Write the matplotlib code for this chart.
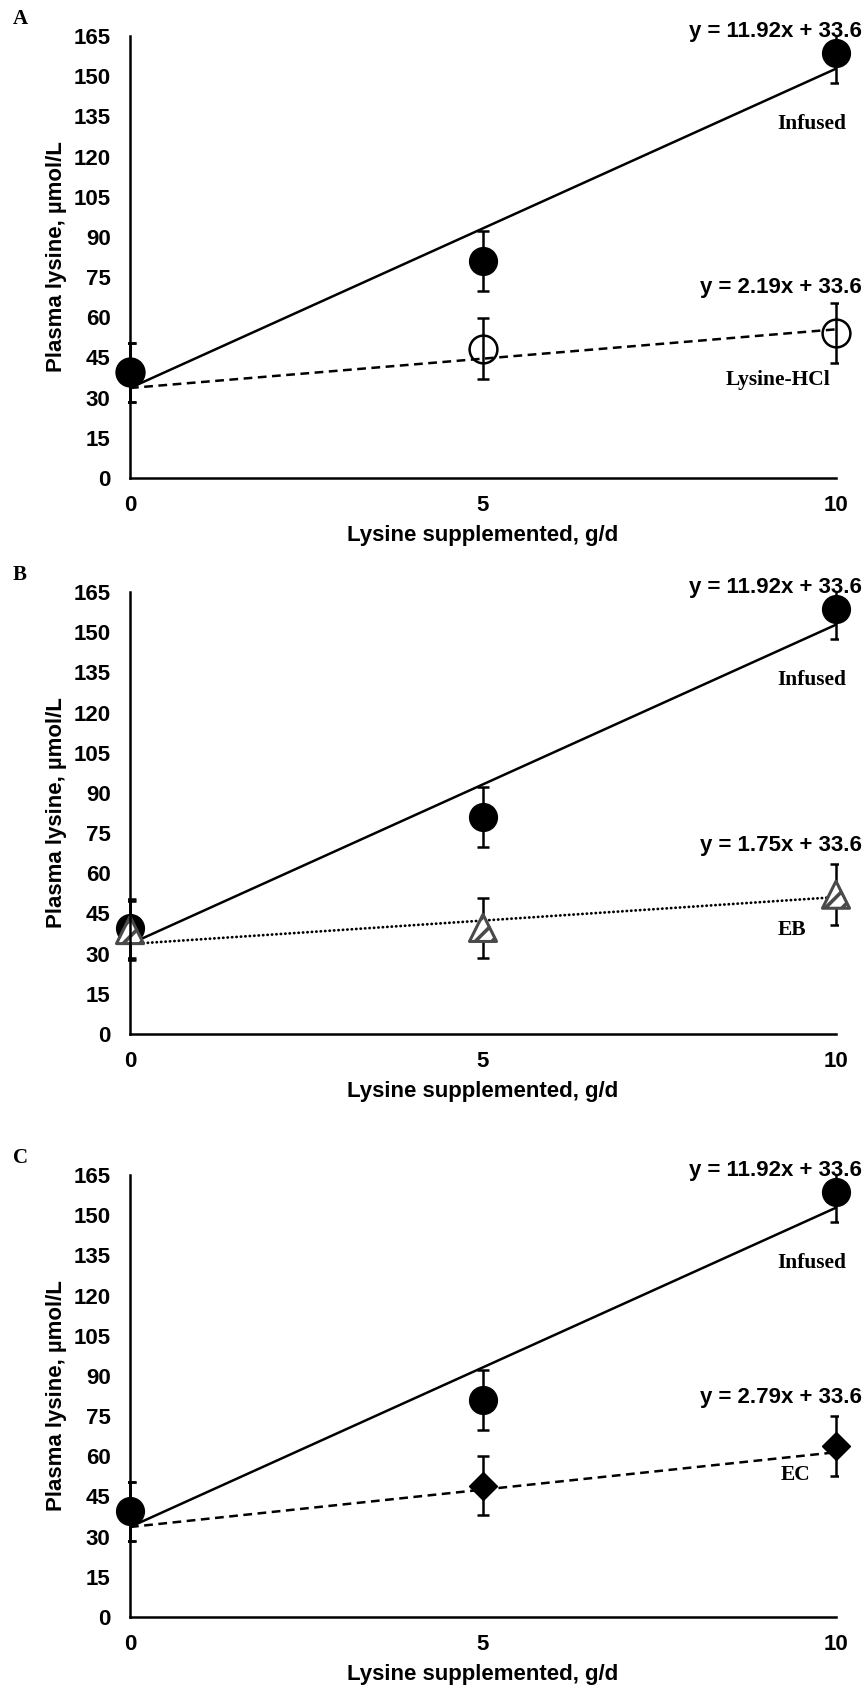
import numpy as np
import matplotlib.pyplot as plt
from matplotlib.patches import Rectangle

# doses and group means / SE
x_dose = [0, 5, 10]
infused_mean = [39.5, 81.0, 158.7]
infused_se = [11.0, 11.2, 11.2]
lys_hcl_mean = [39.5, 48.3, 54.0]
lys_hcl_se = [11.0, 11.3, 11.2]
eb_mean = [38.8, 39.6, 52.0]
eb_se = [11.0, 11.2, 11.3]
ec_mean = [39.5, 49.0, 64.0]
ec_se = [11.0, 11.0, 11.2]

# regression lines (shared intercept)
intercept = 33.6
slope_infused = 11.92
slope_lys_hcl = 2.19
slope_eb = 1.75
slope_ec = 2.79

y_ticks = list(range(0, 166, 15))
x_ticks = [0, 5, 10]

SANS = ['Liberation Sans', 'DejaVu Sans']
SERIF = ['Liberation Serif', 'DejaVu Serif']
LW = 1.8
FS = 16
plt.rcParams['hatch.linewidth'] = 2.6

fig = plt.figure(figsize=(8.65, 16.89), dpi=100)
panel_bottoms = [1 - 478 / 1689, 1 - 1034 / 1689, 1 - 1617 / 1689]
panel_h = 442 / 1689
left, width = 130 / 865, 706 / 865


def fit_line(ax, slope, lw=LW, **kw):
    xs = np.array([0, 10])
    ax.plot(xs, intercept + slope * xs, color='black', lw=lw, zorder=2, **kw)


def errbars(ax, mean, se):
    # clip a touch wider than the axes so the end bars keep full width
    box = Rectangle((-0.025, 0), 10.05, 165, transform=ax.transData)
    cont = ax.errorbar(x_dose, mean, yerr=se, fmt='none', ecolor='black',
                       elinewidth=LW, capsize=4, capthick=LW, zorder=3)
    for art in cont.lines[1] + cont.lines[2]:
        art.set_clip_path(box)


def setup(ax, letter):
    ax.set_xlim(0, 10)
    ax.set_ylim(0, 165)
    ax.set_xticks(x_ticks)
    ax.set_yticks(y_ticks)
    for s in ['top', 'right']:
        ax.spines[s].set_visible(False)
    for s in ['left', 'bottom']:
        ax.spines[s].set_linewidth(LW)
        ax.spines[s].set_zorder(6)
    ax.tick_params(length=0, labelsize=FS)
    ax.tick_params(axis='y', pad=14)
    ax.tick_params(axis='x', pad=12)
    for t in ax.get_xticklabels() + ax.get_yticklabels():
        t.set_family(SANS)
        t.set_fontweight('bold')
    ax.set_xlabel('Lysine supplemented, g/d', family=SANS, fontweight='bold',
                  fontsize=FS, labelpad=7)
    ax.set_ylabel('Plasma lysine, µmol/L', family=SANS, fontweight='bold',
                  fontsize=FS, labelpad=4.5)
    pos = ax.get_position()
    fig.text(13 / 865, pos.y1 + 17 / 1689, letter, family=SERIF,
             fontweight='bold', fontsize=15, ha='left', va='center')


def label(ax, x, y, s, serif=False, ha='center'):
    ax.text(x, y, s, family=SERIF if serif else SANS, fontweight='bold',
            fontsize=15.5 if serif else FS, ha=ha, va='center', clip_on=False,
            zorder=7)


def infused(ax):
    fit_line(ax, slope_infused)
    errbars(ax, infused_mean, infused_se)
    ax.plot(x_dose, infused_mean, 'o', ms=20, color='black', clip_on=False,
            zorder=4)
    label(ax, 10.37, 166.5, 'y = 11.92x + 33.6', ha='right')
    label(ax, 9.66, 132, 'Infused', serif=True)


# Panel A
axA = fig.add_axes([left, panel_bottoms[0], width, panel_h])
fit_line(axA, slope_lys_hcl, dashes=(3.5, 2.2))
errbars(axA, lys_hcl_mean, lys_hcl_se)
axA.plot(x_dose, lys_hcl_mean, 'o', ms=20, mfc='none', mec='black', mew=LW,
         clip_on=False, zorder=4)
infused(axA)
label(axA, 10.37, 71, 'y = 2.19x + 33.6', ha='right')
label(axA, 9.18, 36.5, 'Lysine-HCl', serif=True)
setup(axA, 'A')

# Panel B
axB = fig.add_axes([left, panel_bottoms[1], width, panel_h])
infused(axB)
fit_line(axB, slope_eb, lw=2.0, linestyle=(0, (0.1, 1.5)),
         dash_capstyle='round')
errbars(axB, eb_mean, eb_se)
axB.scatter(x_dose, eb_mean, marker='^', s=19.5 ** 2, facecolor='white',
            edgecolor='#4a4a4a', linewidths=2.2, hatch='//', clip_on=False,
            zorder=5)
label(axB, 10.37, 70.5, 'y = 1.75x + 33.6', ha='right')
label(axB, 9.38, 38.8, 'EB', serif=True)
setup(axB, 'B')

# Panel C
axC = fig.add_axes([left, panel_bottoms[2], width, panel_h])
fit_line(axC, slope_ec, dashes=(3.5, 2.2))
errbars(axC, ec_mean, ec_se)
axC.plot(x_dose, ec_mean, 'D', ms=14.3, color='black', clip_on=False, zorder=4)
infused(axC)
label(axC, 10.37, 82, 'y = 2.79x + 33.6', ha='right')
label(axC, 9.43, 53, 'EC', serif=True)
setup(axC, 'C')

fig.savefig('out.png', dpi=100)
